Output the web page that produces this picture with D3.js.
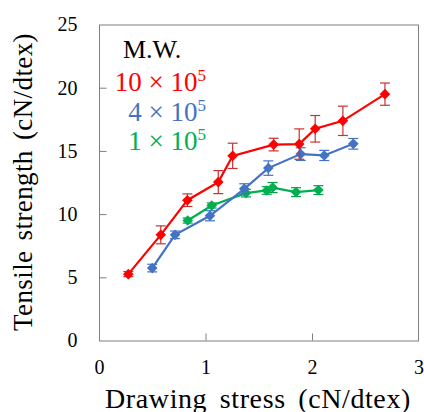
<!DOCTYPE html>
<html>
<head>
<meta charset="utf-8">
<script src="https://cdn.jsdelivr.net/npm/d3@7"></script>
</head>
<body style="margin:0">
<svg id="fig" width="424" height="412"></svg>
<script>
// ---- data ----
const redX = [0.275, 0.58, 0.83, 1.12, 1.255, 1.64, 1.88, 2.03, 2.29, 2.685];
const redY = [5.25, 8.36, 11.1, 12.53, 14.61, 15.5, 15.54, 16.75, 17.38, 19.49];
const redErr = [0.2, 0.71, 0.5, 0.91, 1.0, 0.5, 1.2, 1.05, 1.16, 0.88];

const blueX = [0.50, 0.714, 1.042, 1.364, 1.59, 1.894, 2.115, 2.388];
const blueY = [5.73, 8.36, 9.87, 12.0, 13.64, 14.75, 14.64, 15.56];
const blueErr = [0.3, 0.3, 0.4, 0.4, 0.57, 0.5, 0.4, 0.42];

const greenX = [0.833, 1.058, 1.38, 1.575, 1.63, 1.85, 2.06];
const greenY = [9.49, 10.68, 11.66, 11.87, 12.1, 11.74, 11.9];
const greenErr = [0.2, 0.2, 0.3, 0.3, 0.4, 0.35, 0.35];

const xTicks = [0, 1, 2, 3];
const yTicks = [0, 5, 10, 15, 20, 25];
const legendTitle = "M.W.";
const seriesNames = [["10 × 10", "5"], ["4 × 10", "5"], ["1 × 10", "5"]];
const xTitle = "Drawing stress (cN/dtex)";
const yTitle = "Tensile strength (cN/dtex)";

const FONT = "'Times New Roman', 'Liberation Serif', serif";
function serif(sel, size) {
  return sel.attr("font-family", FONT).attr("font-size", size);
}

// ---- layout ----
const L = 99, R = 418.5, T = 24.5, B = 340.5;
const svg = d3.select("#fig");
const x = d3.scaleLinear().domain([0, 3]).range([L, R]);
const y = d3.scaleLinear().domain([0, 25]).range([B, T]);
const axisColor = "#7f7f7f";

// frame
svg.append("rect")
  .attr("x", L + 0.5).attr("y", T + 0.5)
  .attr("width", R - L - 0.5).attr("height", B - T)
  .attr("fill", "none").attr("stroke", axisColor).attr("stroke-width", 1);

// axes
const fmt = d3.format("d");
const yAxis = d3.axisLeft(y).tickValues(yTicks).tickFormat(fmt).tickSizeInner(-7).tickSizeOuter(0).tickPadding(22);
const gy = svg.append("g").attr("transform", `translate(${L + 0.5},0)`).call(yAxis);
const xAxis = d3.axisBottom(x).tickValues(xTicks).tickFormat(fmt).tickSizeInner(-7).tickSizeOuter(0).tickPadding(19);
const gx = svg.append("g").attr("transform", `translate(0,${B})`).call(xAxis);
[gx, gy].forEach(g => {
  serif(g, 20);
  g.select(".domain").remove();
  g.selectAll(".tick line").attr("stroke", axisColor);
  serif(g.selectAll(".tick text").attr("fill", "#000"), 20);
});
gx.selectAll(".tick").filter(d => d === 0 || d === 3).select("line").remove();
gy.selectAll(".tick").filter(d => d === 0 || d === 25).select("line").remove();

// axis titles
serif(svg.append("text"), 28)
  .attr("x", 258).attr("y", 408)
  .attr("text-anchor", "middle")
  .attr("letter-spacing", 0.6).attr("word-spacing", 5)
  .attr("fill", "#000").text(xTitle);
serif(svg.append("text"), 27)
  .attr("transform", "translate(32,182) rotate(-90)")
  .attr("text-anchor", "middle")
  .attr("letter-spacing", 0.4).attr("word-spacing", 3)
  .attr("fill", "#000").text(yTitle);

// series
const series = [
  { xs: greenX, ys: greenY, es: greenErr, color: "#00b050", err: "#00a048" },
  { xs: blueX, ys: blueY, es: blueErr, color: "#4472c4", err: "#4472c4" },
  { xs: redX, ys: redY, es: redErr, color: "#ff0000", err: "#c83232" }
];
const line = d3.line().x(d => x(d.x)).y(d => y(d.y));
const diamond = d3.symbol().type(d3.symbolDiamond2).size(72);

series.forEach(s => {
  const pts = s.xs.map((v, i) => ({ x: v, y: s.ys[i], e: s.es[i] }));
  const g = svg.append("g");
  const eb = g.selectAll(".eb").data(pts).enter().append("g");
  eb.append("line")
    .attr("x1", d => x(d.x)).attr("x2", d => x(d.x))
    .attr("y1", d => y(d.y - d.e)).attr("y2", d => y(d.y + d.e))
    .attr("stroke", s.err).attr("stroke-width", 1.2);
  [-1, 1].forEach(k => {
    eb.append("line")
      .attr("x1", d => x(d.x) - 5).attr("x2", d => x(d.x) + 5)
      .attr("y1", d => y(d.y + k * d.e)).attr("y2", d => y(d.y + k * d.e))
      .attr("stroke", s.err).attr("stroke-width", 1.2);
  });
  g.append("path").datum(pts).attr("d", line)
    .attr("fill", "none").attr("stroke", s.color).attr("stroke-width", 2.2);
  g.selectAll(".m").data(pts).enter().append("path")
    .attr("transform", d => `translate(${x(d.x)},${y(d.y)})`)
    .attr("d", diamond).attr("fill", s.color);
});

// legend
serif(svg.append("text"), 26).attr("x", 123).attr("y", 58)
  .attr("fill", "#000").text(legendTitle);
const legColors = ["#ff0000", "#4472c4", "#00b050"];
const legY = [91, 120.5, 150];
seriesNames.forEach((n, i) => {
  const t = serif(svg.append("text"), 27).attr("x", 206).attr("y", legY[i])
    .attr("text-anchor", "end").attr("fill", legColors[i]);
  t.append("tspan").text(n[0]);
  serif(t.append("tspan"), 17).attr("dy", -10).text(n[1]);
});
</script>
</body>
</html>
